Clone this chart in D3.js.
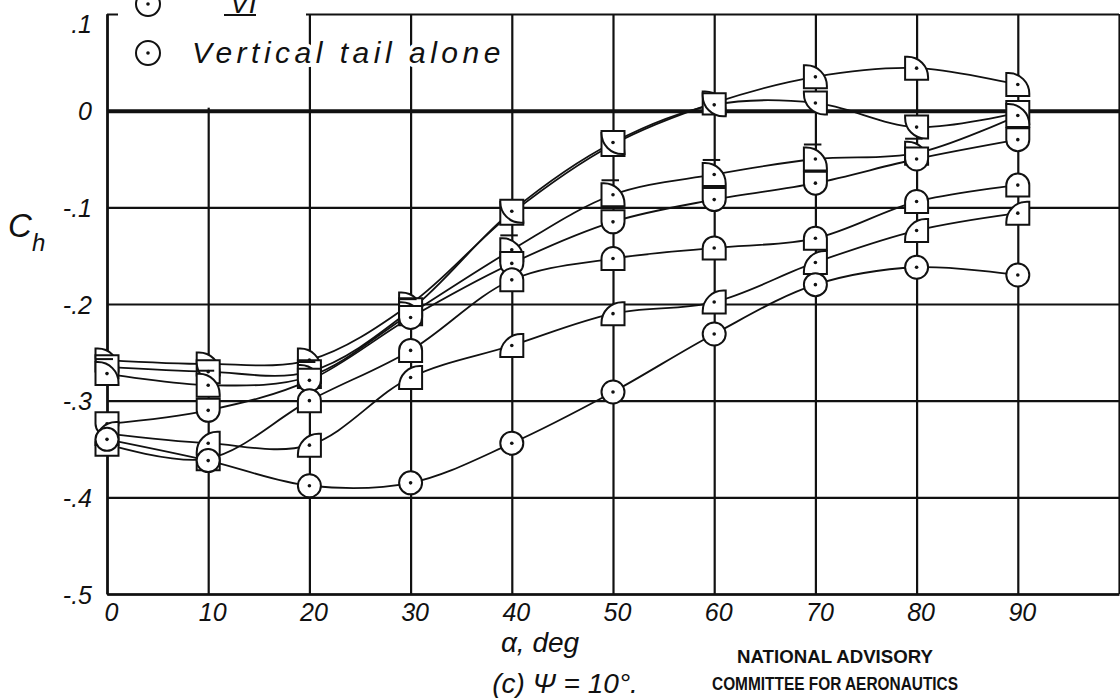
<!DOCTYPE html>
<html>
<head>
<meta charset="utf-8">
<script src="https://cdn.jsdelivr.net/npm/d3@7"></script>
<style>
	body { margin: 0; background: #fff; }
	svg { display: block; }
	text { font-family: "Liberation Sans", Arial, sans-serif; fill: #111; }
</style>
</head>
<body>
<svg width="1120" height="698"></svg>
<script>
// angle of attack, deg
const alpha = [0, 10, 20, 30, 40, 50, 60, 70, 80, 90]

// hinge-moment coefficient per configuration
const chI = [-0.258, -0.262, -0.258, -0.2, -0.106, -0.035, 0.008, 0.035, 0.044, 0.027]
const chII = [-0.265, -0.27, -0.27, -0.206, -0.104, -0.033, 0.006, 0.008, -0.017, -0.002]
const chIII = [-0.272, -0.284, -0.275, -0.21, -0.144, -0.087, -0.066, -0.05, -0.044, -0.005]
const chIV = [-0.324, -0.31, -0.279, -0.214, -0.158, -0.115, -0.092, -0.075, -0.05, -0.03]
const chV = [-0.345, -0.36, -0.3, -0.248, -0.175, -0.153, -0.142, -0.132, -0.094, -0.077]
const chVI = [-0.334, -0.344, -0.346, -0.276, -0.243, -0.21, -0.198, -0.157, -0.124, -0.106]
const chTail = [-0.34, -0.362, -0.388, -0.385, -0.344, -0.291, -0.231, -0.18, -0.162, -0.17]

const seriesKeys = ["I", "II", "III", "IV", "V", "VI", "tail"]
const seriesValues = [chI, chII, chIII, chIV, chV, chVI, chTail]
const seriesSymbols = ["qtr", "qbl", "qtrFlag", "rb", "rt", "qtl", "circle"]

const xTicks = [0, 10, 20, 30, 40, 50, 60, 70, 80, 90, 100]
const xTickLabels = ["0", "10", "20", "30", "40", "50", "60", "70", "80", "90", ""]
const yTicks = [0.1, 0, -0.1, -0.2, -0.3, -0.4, -0.5]
const yTickLabels = [".1", "0", "-.1", "-.2", "-.3", "-.4", "-.5"]

var svg = d3.select("svg"),
	plotLeft = 107,
	plotRight = 1119,
	plotTop = 14,
	plotBottom = 594

var x = d3.scaleLinear().domain([0, 100]).range([plotLeft, plotRight])
var y = d3.scaleLinear().domain([-0.5, 0.1]).range([plotBottom, plotTop])

// vertical grid + x labels
var xAxis = svg
	.append("g")
	.attr("transform", "translate(0," + plotBottom + ")")
	.call(
		d3
			.axisBottom(x)
			.tickValues(xTicks)
			.tickSize(-(plotBottom - plotTop))
			.tickSizeOuter(0)
			.tickPadding(9)
			.tickFormat(function (d, i) {
				return xTickLabels[i]
			})
	)
xAxis.select(".domain").attr("stroke", "#111").attr("stroke-width", 2.5)
xAxis.selectAll(".tick line").attr("stroke", "#111").attr("stroke-width", 2.2)
xAxis
	.selectAll(".tick text")
	.style("font-size", "25px")
	.style("font-style", "italic")
	.attr("fill", "#111")
	.attr("dx", 4)

// horizontal grid + y labels
var yAxis = svg
	.append("g")
	.attr("transform", "translate(" + plotLeft + ",0)")
	.call(
		d3
			.axisLeft(y)
			.tickValues(yTicks)
			.tickSize(-(plotRight - plotLeft))
			.tickSizeOuter(0)
			.tickPadding(15)
			.tickFormat(function (d, i) {
				return yTickLabels[i]
			})
	)
yAxis.select(".domain").attr("stroke", "#111").attr("stroke-width", 2.5)
yAxis
	.selectAll(".tick line")
	.attr("stroke", "#111")
	.attr("stroke-width", function (d) {
		return d === 0 ? 4 : 2.2
	})
yAxis
	.selectAll(".tick text")
	.style("font-size", "25px")
	.style("font-style", "italic")
	.attr("fill", "#111")
	.attr("dy", function (d) {
		return d === 0.1 ? "0.75em" : "0.36em"
	})

// legend area blanks out the grid in the upper left corner
svg
	.append("rect")
	.attr("x", plotLeft + 11)
	.attr("y", 0)
	.attr("width", 188)
	.attr("height", y(0) - 3)
	.attr("fill", "#fff")

// symbol shapes, h = half size
function symbolPath(type, h) {
	var r = 1.8 * h
	if (type === "qtr" || type === "qtrFlag")
		return `M${-h},${h} L${-h},${-h} L${h - r},${-h} A${r},${r} 0 0 1 ${h},${-h + r} L${h},${h} Z`
	if (type === "qtl")
		return `M${h},${h} L${h},${-h} L${-h + r},${-h} A${r},${r} 0 0 0 ${-h},${-h + r} L${-h},${h} Z`
	if (type === "qbl")
		return `M${-h},${-h} L${h},${-h} L${h},${h} L${-h + r},${h} A${r},${r} 0 0 1 ${-h},${h - r} Z`
	if (type === "rb") return `M${-h},${-h} L${h},${-h} L${h},0 A${h},${h} 0 0 1 ${-h},0 Z`
	if (type === "rt") return `M${-h},${h} L${-h},0 A${h},${h} 0 0 1 ${h},0 L${h},${h} Z`
	return `M${-h},0 A${h},${h} 0 1 1 ${h},0 A${h},${h} 0 1 1 ${-h},0 Z`
}

var line = d3
	.line()
	.x(function (d) {
		return x(d.a)
	})
	.y(function (d) {
		return y(d.c)
	})
	.curve(d3.curveCatmullRom.alpha(0.5))

var series = seriesKeys.map(function (key, i) {
	return {
		key: key,
		symbol: seriesSymbols[i],
		points: alpha.map(function (a, j) {
			return { a: a, c: seriesValues[i][j] }
		}),
	}
})

svg
	.selectAll(".curve")
	.data(series)
	.enter()
	.append("path")
	.attr("class", "curve")
	.attr("d", function (d) {
		return line(d.points)
	})
	.attr("fill", "none")
	.attr("stroke", "#111")
	.attr("stroke-width", 1.8)

var marks = svg
	.selectAll(".mark")
	.data(
		series.flatMap(function (s) {
			return s.points.map(function (p) {
				return { a: p.a, c: p.c, symbol: s.symbol }
			})
		})
	)
	.enter()
	.append("g")
	.attr("class", "mark")
	.attr("transform", function (d) {
		return "translate(" + x(d.a) + "," + y(d.c) + ")"
	})

marks
	.append("path")
	.attr("d", function (d) {
		return symbolPath(d.symbol, 11.5)
	})
	.attr("fill", "#fff")
	.attr("stroke", "#111")
	.attr("stroke-width", 2)

marks
	.filter(function (d) {
		return d.symbol === "qtrFlag"
	})
	.append("line")
	.attr("x1", -11.5)
	.attr("x2", 6)
	.attr("y1", -14.5)
	.attr("y2", -14.5)
	.attr("stroke", "#111")
	.attr("stroke-width", 2)

marks
	.append("circle")
	.attr("r", 1.8)
	.attr("fill", "#111")

// legend (top entry is cut off by the page edge)
var legend = svg.append("g")
legend
	.append("path")
	.attr("transform", "translate(148,4)")
	.attr("d", symbolPath("circle", 12))
	.attr("fill", "#fff")
	.attr("stroke", "#111")
	.attr("stroke-width", 2)
legend.append("circle").attr("cx", 148).attr("cy", 4).attr("r", 1.8).attr("fill", "#111")
legend
	.append("text")
	.attr("x", 230)
	.attr("y", 13)
	.style("font-size", "28px")
	.style("font-style", "italic")
	.text("VI")
legend
	.append("line")
	.attr("x1", 224)
	.attr("x2", 256)
	.attr("y1", 15)
	.attr("y2", 15)
	.attr("stroke", "#111")
	.attr("stroke-width", 2)

legend
	.append("path")
	.attr("transform", "translate(148,53)")
	.attr("d", symbolPath("circle", 12))
	.attr("fill", "#fff")
	.attr("stroke", "#111")
	.attr("stroke-width", 2)
legend.append("circle").attr("cx", 148).attr("cy", 53).attr("r", 1.8).attr("fill", "#111")
legend
	.append("text")
	.attr("x", 192)
	.attr("y", 63)
	.style("font-size", "30px")
	.style("font-style", "italic")
	.style("letter-spacing", "4.5px")
	.style("paint-order", "stroke")
	.attr("stroke", "#fff")
	.attr("stroke-width", 8)
	.text("Vertical tail alone")

// axis titles
svg
	.append("text")
	.attr("x", 8)
	.attr("y", 237)
	.style("font-size", "33px")
	.style("font-style", "italic")
	.text("C")
svg
	.append("text")
	.attr("x", 32)
	.attr("y", 251)
	.style("font-size", "24px")
	.style("font-style", "italic")
	.text("h")

svg
	.append("text")
	.attr("x", 540)
	.attr("y", 652)
	.attr("text-anchor", "middle")
	.style("font-size", "28px")
	.style("font-style", "italic")
	.text("α, deg")

svg
	.append("text")
	.attr("x", 565)
	.attr("y", 693)
	.attr("text-anchor", "middle")
	.style("font-size", "28px")
	.style("font-style", "italic")
	.text("(c) Ψ = 10°.")

svg
	.append("text")
	.attr("x", 835)
	.attr("y", 663)
	.attr("text-anchor", "middle")
	.attr("textLength", 196)
	.attr("lengthAdjust", "spacingAndGlyphs")
	.style("font-size", "18px")
	.style("font-weight", "bold")
	.text("NATIONAL ADVISORY")
svg
	.append("text")
	.attr("x", 835)
	.attr("y", 690)
	.attr("text-anchor", "middle")
	.attr("textLength", 246)
	.attr("lengthAdjust", "spacingAndGlyphs")
	.style("font-size", "18px")
	.style("font-weight", "bold")
	.text("COMMITTEE FOR AERONAUTICS")
</script>
</body>
</html>
